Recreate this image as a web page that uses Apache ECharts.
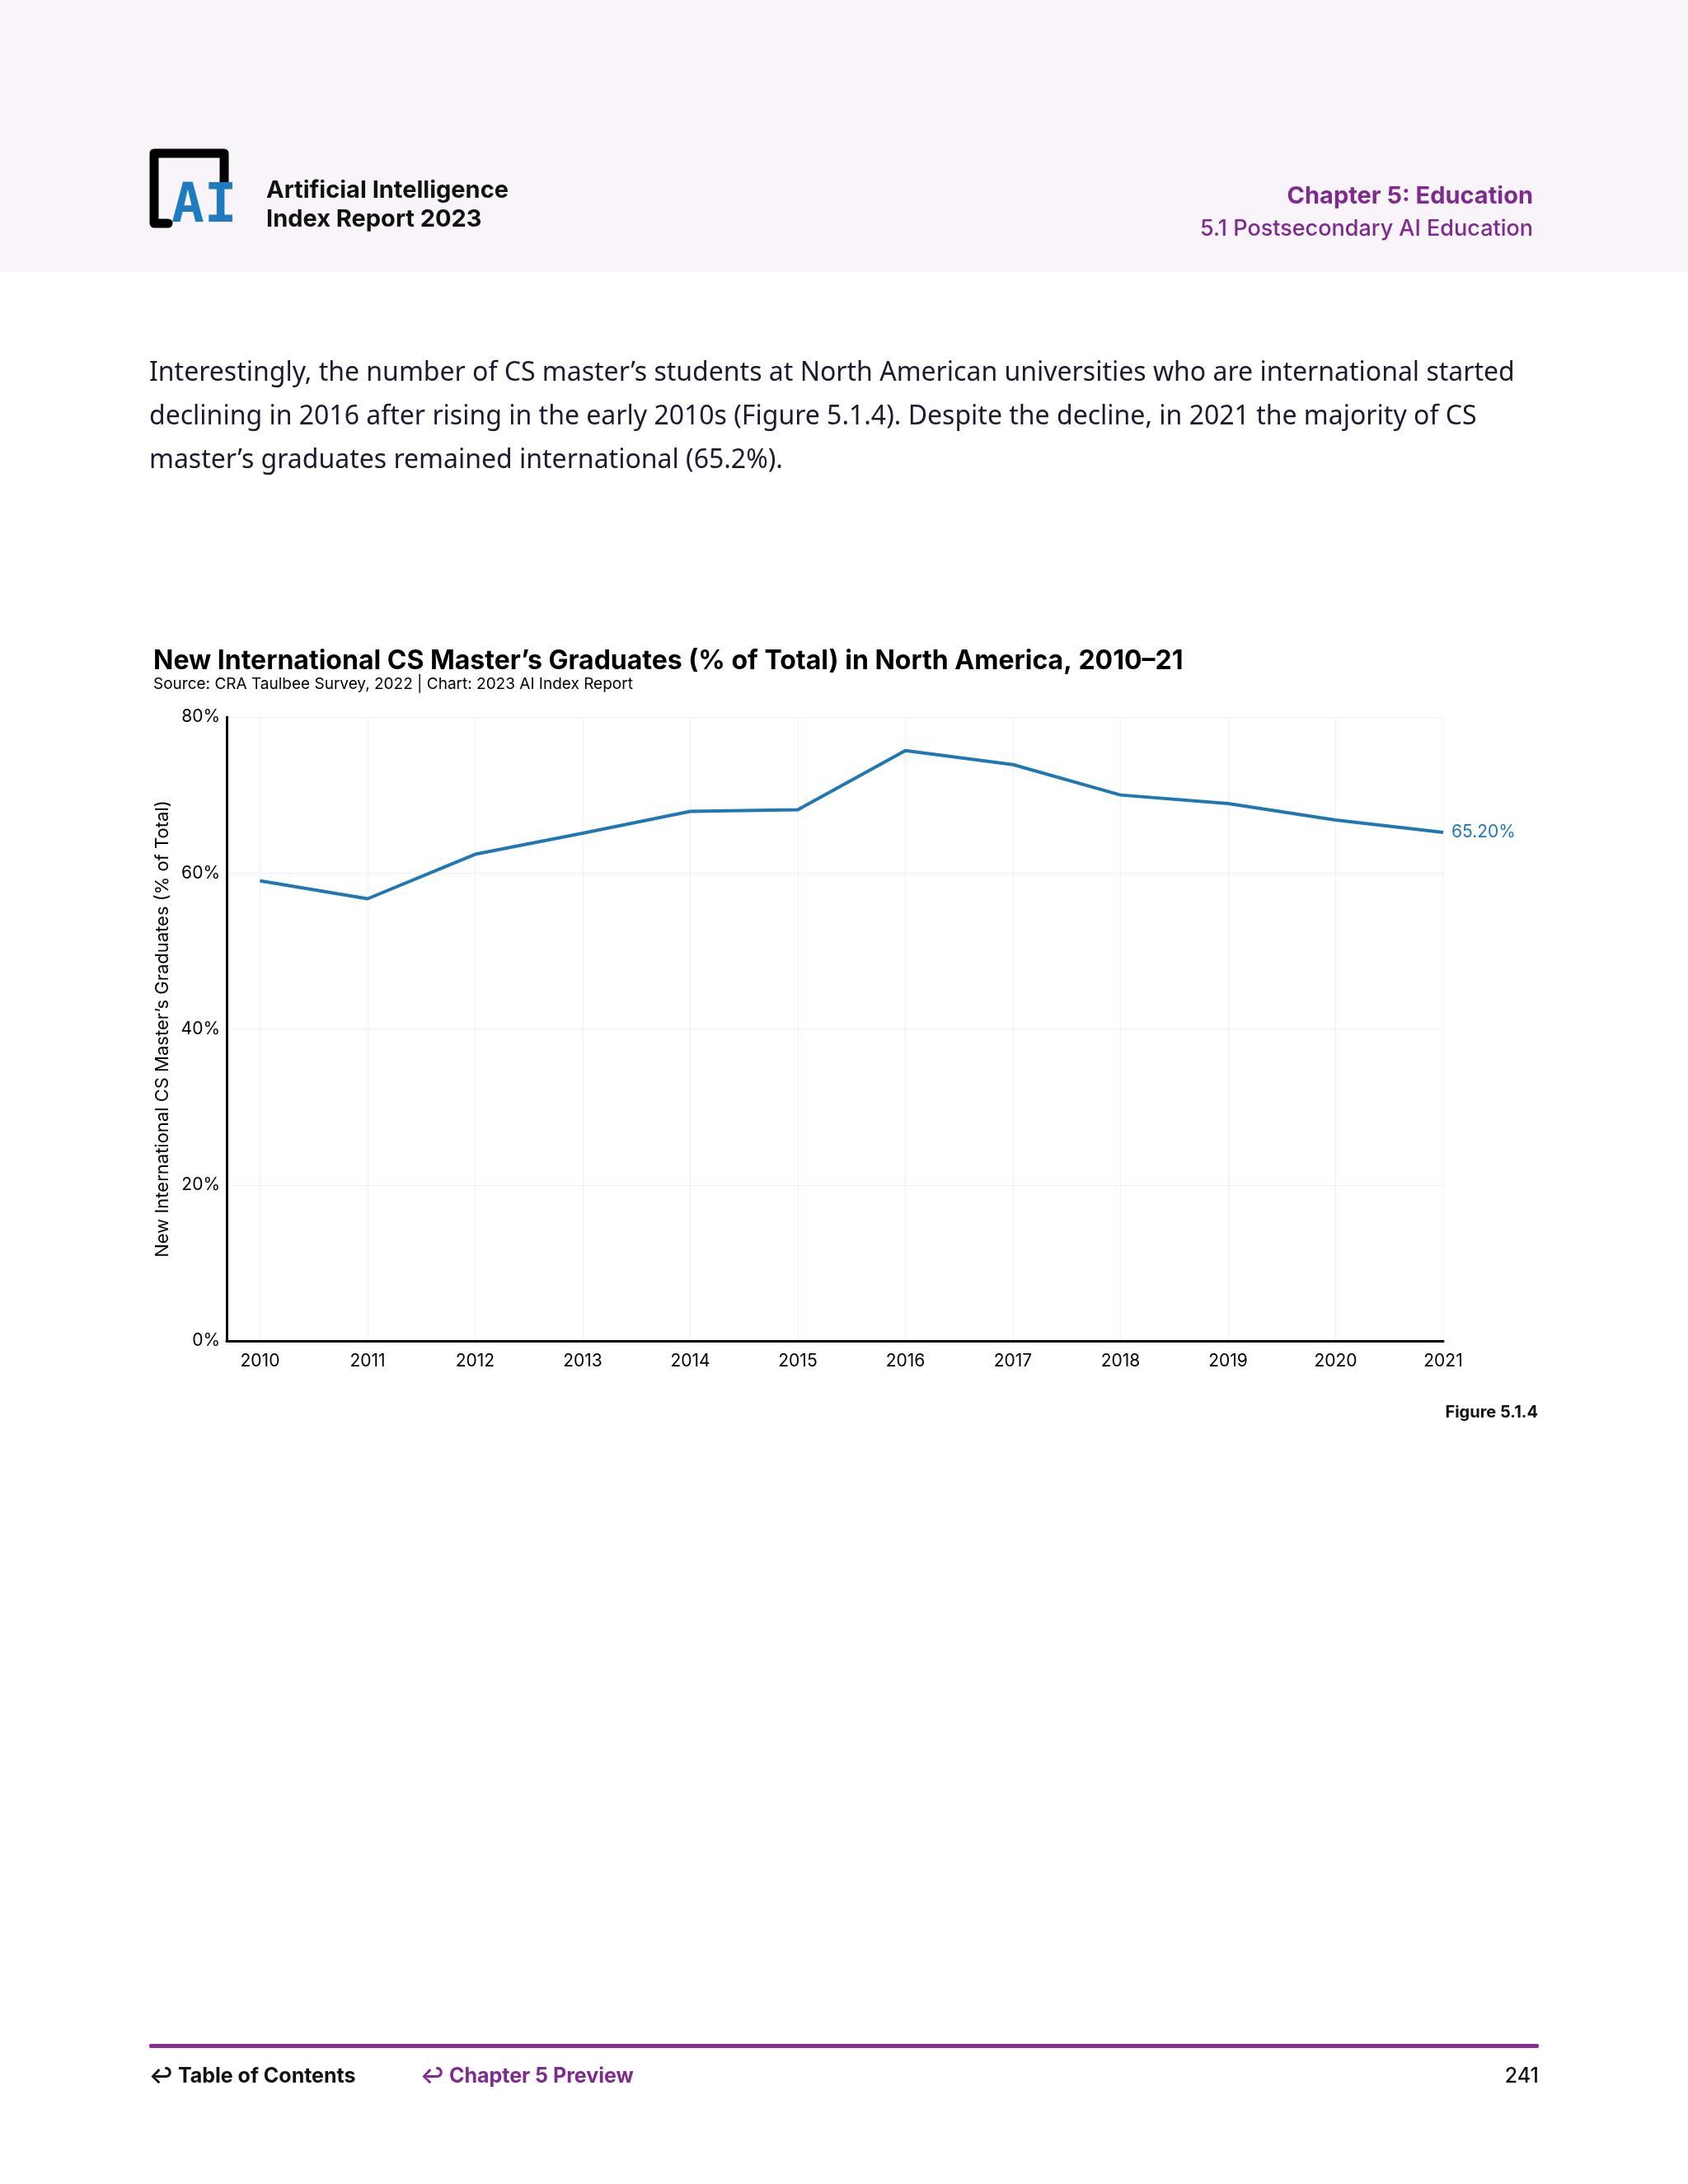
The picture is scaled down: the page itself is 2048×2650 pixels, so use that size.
<!DOCTYPE html>
<html>
<head>
<meta charset="utf-8">
<script src="https://cdn.jsdelivr.net/npm/echarts@6/dist/echarts.min.js"></script>
<style>html,body{margin:0;padding:0;background:#fff}#c{width:2048px;height:2650px}</style>
</head>
<body>
<div id="c"></div>
<script>
const years = [2010, 2011, 2012, 2013, 2014, 2015, 2016, 2017, 2018, 2019, 2020, 2021];
const values = [59.0, 56.7, 62.4, 65.1, 67.9, 68.1, 75.7, 73.9, 70.0, 68.9, 66.8, 65.2];
const yTicks = [0, 20, 40, 60, 80];
const paragraph = [
  "Interestingly, the number of CS master’s students at North American universities who are international started",
  "declining in 2016 after rising in the early 2010s (Figure 5.1.4). Despite the decline, in 2021 the majority of CS",
  "master’s graduates remained international (65.2%)."
];
const chartTitle = "New International CS Master’s Graduates (% of Total) in North America, 2010–21";
const chartSource = "Source: CRA Taulbee Survey, 2022 | Chart: 2023 AI Index Report";
const yAxisName = "New International CS Master’s Graduates (% of Total)";

const purple = '#7e2a8e';
const dark = '#1b1b2f';
const blue = '#1f77b4';
const FF = 'Inter, Lato, sans-serif';

const chart = echarts.init(document.getElementById('c'), null, {renderer: 'canvas'});

const graphics = [
  {type: 'rect', z: -10, shape: {x: 0, y: 0, width: 2048, height: 330}, style: {fill: '#f9f4f9'}},
  // logo
  {type: 'polyline', shape: {points: [[204, 271], [187, 271], [187, 186], [272, 186], [272, 222]]},
   style: {stroke: '#000', lineWidth: 11, fill: null, lineJoin: 'round', lineCap: 'round'}},
  {type: 'text', style: {text: 'AI', x: 208, y: 252, font: 'bold 66px "DejaVu Sans Mono"', fill: '#1f7bc1', textVerticalAlign: 'middle'}},
  {type: 'text', style: {text: 'Artificial Intelligence', x: 323, y: 231, font: 'bold 29px ' + FF, fill: '#111', textVerticalAlign: 'middle'}},
  {type: 'text', style: {text: 'Index Report 2023', x: 323, y: 266, font: 'bold 29px ' + FF, fill: '#111', textVerticalAlign: 'middle'}},
  {type: 'text', style: {text: 'Chapter 5: Education', x: 1860, y: 238, font: 'bold 29px ' + FF, fill: purple, textAlign: 'right', textVerticalAlign: 'middle'}},
  {type: 'text', style: {text: '5.1 Postsecondary AI Education', x: 1860, y: 278, font: '500 27px ' + FF, fill: purple, textAlign: 'right', textVerticalAlign: 'middle'}},
  // chart title
  {type: 'text', style: {text: chartTitle, x: 186, y: 802, font: 'bold 32px ' + FF, fill: '#000', textVerticalAlign: 'middle'}},
  {type: 'text', style: {text: chartSource, x: 186, y: 830, font: '19px ' + FF, fill: '#000', textVerticalAlign: 'middle'}},
  {type: 'text', style: {text: 'Figure 5.1.4', x: 1866, y: 1714, font: 'bold 20px ' + FF, fill: '#111', textAlign: 'right', textVerticalAlign: 'middle'}},
  // footer
  {type: 'rect', shape: {x: 181, y: 2480, width: 1686, height: 5, r: 2}, style: {fill: '#8b2a97'}},
  {type: 'text', style: {text: '↩ Table of Contents', x: 181, y: 2519, font: 'bold 25px ' + FF, fill: '#111', textVerticalAlign: 'middle'}},
  {type: 'text', style: {text: '↩ Chapter 5 Preview', x: 510, y: 2519, font: 'bold 25px ' + FF, fill: purple, textVerticalAlign: 'middle'}},
  {type: 'text', style: {text: '241', x: 1867, y: 2519, font: '500 25px ' + FF, fill: '#111', textAlign: 'right', textVerticalAlign: 'middle'}}
];
paragraph.forEach((line, i) => {
  graphics.push({type: 'text', style: {text: line, x: 181, y: 453 + i * 53, font: '32px "Noto Sans", sans-serif', fill: dark, textVerticalAlign: 'middle'}});
});

chart.setOption({
  animation: false,
  backgroundColor: '#ffffff',
  textStyle: {fontFamily: FF},
  graphic: graphics,
  grid: {left: 275, right: 297, top: 870, bottom: 1023, containLabel: false},
  xAxis: {
    type: 'value',
    min: 2009.69,
    max: 2021,
    axisLine: {show: true, lineStyle: {color: '#000', width: 3}},
    axisTick: {show: false, customValues: years},
    axisLabel: {customValues: years, formatter: v => String(v), color: '#000', fontSize: 21, margin: 14, fontFamily: FF},
    splitLine: {show: true, lineStyle: {color: '#f0f0f0', width: 1}}
  },
  yAxis: {
    type: 'value',
    min: yTicks[0],
    max: yTicks[yTicks.length - 1],
    interval: 20,
    name: yAxisName,
    nameLocation: 'middle',
    nameRotate: 90,
    nameGap: 62,
    nameTextStyle: {fontSize: 22, color: '#000', fontFamily: FF},
    axisLine: {show: true, lineStyle: {color: '#000', width: 3}},
    axisTick: {show: false},
    axisLabel: {formatter: '{value}%', color: '#000', fontSize: 21, margin: 8, fontFamily: FF},
    splitLine: {show: true, lineStyle: {color: '#f0f0f0', width: 1}}
  },
  series: [{
    type: 'line',
    data: years.map((y, i) => [y, values[i]]),
    symbol: 'none',
    lineStyle: {color: blue, width: 4},
    itemStyle: {color: blue},
    endLabel: {show: true, formatter: p => p.value[1].toFixed(2) + '%', color: blue, fontSize: 21, distance: 10, fontFamily: FF}
  }]
});
</script>
</body>
</html>
